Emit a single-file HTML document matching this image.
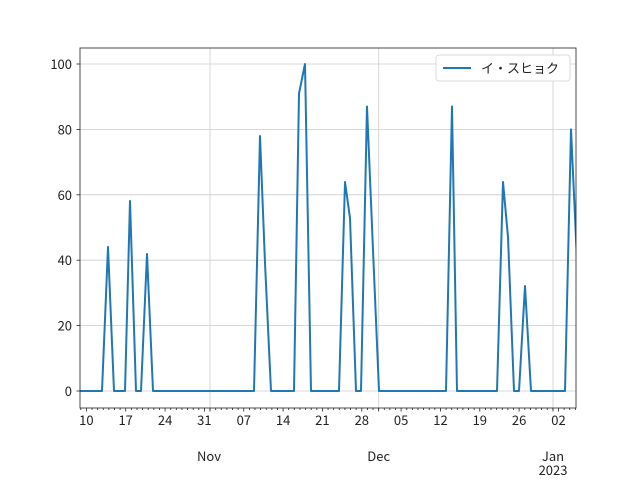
<!DOCTYPE html>
<html><head><meta charset="utf-8"><style>body{margin:0;background:#fff}svg{display:block}text{font-family:"Noto Sans CJK JP","Liberation Sans",sans-serif;font-size:13px;fill:#222}</style></head><body>
<svg id="s" width="640" height="480" viewBox="0 0 640 480">
<rect x="0" y="0" width="640" height="480" fill="#fff"/>
<defs><clipPath id="c"><rect x="80" y="48" width="496" height="360"/></clipPath></defs>
<g stroke="#cccccc" stroke-width="0.8">
<line x1="80" x2="576" y1="391" y2="391"/><line x1="80" x2="576" y1="325.6" y2="325.6"/><line x1="80" x2="576" y1="260.2" y2="260.2"/><line x1="80" x2="576" y1="194.8" y2="194.8"/><line x1="80" x2="576" y1="129.4" y2="129.4"/><line x1="80" x2="576" y1="64" y2="64"/>
<line x1="210" x2="210" y1="48" y2="408"/><line x1="378.7" x2="378.7" y1="48" y2="408"/><line x1="553" x2="553" y1="48" y2="408"/>
</g>
<polyline clip-path="url(#c)" fill="none" stroke="#1f77b4" stroke-width="2" stroke-linejoin="round" points="80,391 102,391 108,247 114,391 125,391 130,201 136,391 141,391 147,254 153,391 254,391 260,136 265,263 271,391 294,391 299,93.5 305,64 311,391 339,391 345,182 350,218 356,391 361,391 367,106.5 373,250 379,391 446,391 452,106.5 457,391 497,391 503,182 508,237 514,391 519,391 525,286 531,391 565,391 571,129.4 577,260"/>
<g id="ticks" stroke="#222" stroke-width="0.8"></g>
<g stroke="#222" stroke-width="0.8">
<line x1="76.5" x2="80" y1="391" y2="391"/><line x1="76.5" x2="80" y1="325.6" y2="325.6"/><line x1="76.5" x2="80" y1="260.2" y2="260.2"/><line x1="76.5" x2="80" y1="194.8" y2="194.8"/><line x1="76.5" x2="80" y1="129.4" y2="129.4"/><line x1="76.5" x2="80" y1="64" y2="64"/>
</g>
<rect x="80" y="48" width="496" height="360" fill="none" stroke="#222" stroke-width="0.8"/>
<g text-anchor="end">
<text x="72" y="396">0</text><text x="72" y="330.6">20</text><text x="72" y="265.2">40</text><text x="72" y="199.8">60</text><text x="72" y="134.4">80</text><text x="72" y="69">100</text>
</g>
<g text-anchor="middle">
<text x="86.4" y="425">10</text><text x="125.7" y="425">17</text><text x="165.1" y="425">24</text><text x="204.4" y="425">31</text><text x="243.8" y="425">07</text><text x="283.1" y="425">14</text><text x="322.4" y="425">21</text><text x="361.8" y="425">28</text><text x="401.1" y="425">05</text><text x="440.5" y="425">12</text><text x="479.8" y="425">19</text><text x="519.1" y="425">26</text><text x="558.5" y="425">02</text>
<text x="209" y="461">Nov</text><text x="378.7" y="461">Dec</text><text x="553" y="461">Jan</text><text x="553" y="475">2023</text>
</g>
<rect x="436" y="55" width="134" height="26" rx="3" fill="#fff" stroke="#d0d0d0" stroke-width="0.8"/>
<line x1="443" x2="471" y1="68" y2="68" stroke="#1f77b4" stroke-width="2"/>
<text x="481" y="73">イ・スヒョク</text>
</svg>
<script>
var g=document.getElementById('ticks'),h='';
for(var d=-1;d<=88;d++){var x=86.4+d*5.62;if(x<80||x>576.5)continue;var maj=(d%7==0);h+='<line x1="'+x+'" x2="'+x+'" y1="408" y2="'+(408+(maj?3.5:2))+'"/>';}
h+='<line x1="210" x2="210" y1="408" y2="411.5"/><line x1="378.7" x2="378.7" y1="408" y2="411.5"/><line x1="553" x2="553" y1="408" y2="411.5"/>';
g.innerHTML=h;
</script>
</body></html>
